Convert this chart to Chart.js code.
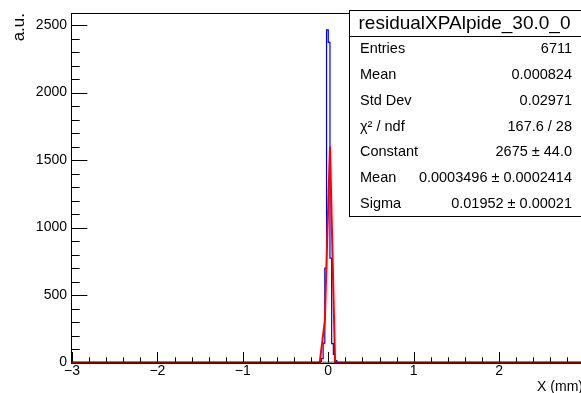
<!DOCTYPE html>
<html><head><meta charset="utf-8">
<script src="https://cdn.jsdelivr.net/npm/chart.js@4"></script>
<style>
html,body{margin:0;padding:0;background:#fff;overflow:hidden;width:581px;height:393px;}
canvas{display:block;}
</style></head><body>
<canvas id="c" width="600" height="393" style="width:600px;height:393px"></canvas>
<script>
const histTitle = 'residualXPAlpide_30.0_0';
const xTitle = 'X (mm)';
const yTitle = 'a.u.';
const binWidth = 0.02;
const binLow    = [-0.10, -0.08, -0.06, -0.04, -0.02, 0.00, 0.02, 0.04, 0.06, 0.08];
const binCounts = [8, 28, 144, 700, 2465, 2372, 774, 140, 60, 15];
const fitX = [-3, -0.10, -0.04, 0.02, 0.08, 3];
const fitY = [0, 0, 310, 1600, 0, 0];
const statLabels = ['Entries', 'Mean', 'Std Dev', 'χ² / ndf', 'Constant', 'Mean', 'Sigma'];
const statValues = ['6711', '0.000824', '0.02971', '167.6 / 28', '2675 ± 44.0', '0.0003496 ± 0.0002414', '0.01952 ± 0.00021'];
const xTickValues = [-3, -2, -1, 0, 1, 2, 3];
const yTickValues = [0, 500, 1000, 1500, 2000, 2500];
const xMin = -3, xMax = 3;
const yMin = 0, yMax = 2587;

const FONT = '"Liberation Sans", Arial, Helvetica, sans-serif';

const histPts = [{x: xMin, y: 0}];
binLow.forEach((lo, i) => histPts.push({x: lo, y: binCounts[i]}));
histPts.push({x: binLow[binLow.length - 1] + binWidth, y: 0});
histPts.push({x: xMax, y: 0});
const fitPts = fitX.map((x, i) => ({x, y: fitY[i]}));

const rootDecor = {
  id: 'rootDecor',
  beforeDatasetsDraw(chart) {
    const {ctx, chartArea: a} = chart;
    ctx.save();
    ctx.strokeStyle = '#000';
    ctx.lineWidth = 1;
    ctx.strokeRect(Math.round(a.left) - 0.5, Math.round(a.top) + 0.5, a.right - a.left, Math.round(a.bottom) - Math.round(a.top));
    const xs = chart.scales.x, ys = chart.scales.y;
    const H = a.bottom - a.top, W = a.right - a.left;
    ctx.beginPath();
    for (let i = -15; i <= 15; i++) {
      const v = i / 5;
      const px = Math.round(xs.getPixelForValue(v)) + 0.5;
      const len = (i % 5 === 0) ? 0.03 * H : 0.015 * H;
      ctx.moveTo(px, a.bottom);
      ctx.lineTo(px, a.bottom - len);
    }
    for (let v = 0; v <= 2500; v += 100) {
      const py = Math.round(ys.getPixelForValue(v)) + 0.5;
      const len = (v % 500 === 0) ? 0.03 * W : 0.015 * W;
      ctx.moveTo(a.left, py);
      ctx.lineTo(a.left + len, py);
    }
    ctx.stroke();
    ctx.restore();
  },
  afterDatasetsDraw(chart) {
    const {ctx, chartArea: a} = chart;
    ctx.save();
    ctx.strokeStyle = 'rgba(0,0,0,0.45)';
    ctx.lineWidth = 2;
    ctx.beginPath();
    ctx.moveTo(a.left, a.bottom);
    ctx.lineTo(a.right, a.bottom);
    ctx.stroke();
    ctx.restore();
  },
  afterDraw(chart) {
    const {ctx} = chart;
    ctx.save();
    ctx.fillStyle = '#000';
    ctx.font = '14px ' + FONT;
    ctx.textAlign = 'right';
    ctx.textBaseline = 'alphabetic';
    ctx.fillText(xTitle, 583, 391);
    ctx.save();
    ctx.translate(24, 13);
    ctx.rotate(-Math.PI / 2);
    ctx.font = '17px ' + FONT;
    ctx.textAlign = 'right';
    ctx.fillText(yTitle, 0, 0);
    ctx.restore();
    const bx = 349.5, by = 10.5, bw = 260, bh = 206;
    ctx.fillStyle = '#fff';
    ctx.fillRect(bx, by, bw, bh);
    ctx.strokeStyle = '#000';
    ctx.lineWidth = 1;
    ctx.strokeRect(bx, by, bw, bh);
    ctx.beginPath();
    ctx.moveTo(bx, 36.5); ctx.lineTo(bx + bw, 36.5);
    ctx.stroke();
    ctx.fillStyle = '#000';
    ctx.font = '19px ' + FONT;
    ctx.textAlign = 'center';
    ctx.textBaseline = 'middle';
    ctx.fillText(histTitle, 464.5, 24);
    ctx.font = '14.5px ' + FONT;
    const rowH = (216.5 - 36.5) / statLabels.length;
    statLabels.forEach((lab, i) => {
      const cy = 36.5 + rowH * (i + 0.5);
      ctx.textAlign = 'left';
      ctx.fillText(lab, 360, cy);
      ctx.textAlign = 'right';
      ctx.fillText(statValues[i], 572, cy);
    });
    ctx.restore();
  }
};

new Chart(document.getElementById('c'), {
  type: 'line',
  data: {
    datasets: [
      {
        data: histPts, stepped: 'before', borderColor: '#0000dd', borderWidth: 1.2,
        pointRadius: 0, fill: false, clip: 6, order: 2
      },
      {
        data: fitPts, borderColor: '#ff0000', borderWidth: 2,
        pointRadius: 0, fill: false, tension: 0, clip: 6, order: 1
      }
    ]
  },
  options: {
    responsive: false,
    animation: false,
    events: [],
    layout: {padding: {left: 0, right: 15.5, top: 13.3, bottom: 0}},
    plugins: {legend: {display: false}, tooltip: {enabled: false}, title: {display: false}},
    scales: {
      x: {
        type: 'linear', min: xMin, max: xMax,
        grid: {display: false, drawTicks: false},
        border: {display: false},
        afterBuildTicks: s => { s.ticks = xTickValues.map(v => ({value: v})); },
        ticks: {
          padding: 0, maxRotation: 0, autoSkip: false,
          color: '#000', font: {family: FONT, size: 14},
          callback: v => (v < 0 ? '\u2212' + Math.abs(v) : String(v))
        },
        afterFit: s => { s.height = 30.5; }
      },
      y: {
        type: 'linear', min: yMin, max: yMax,
        grid: {display: false, drawTicks: false},
        border: {display: false},
        afterBuildTicks: s => { s.ticks = yTickValues.map(v => ({value: v})); },
        ticks: {
          padding: 5, autoSkip: false,
          color: '#000', font: {family: FONT, size: 14},
          callback: v => String(v)
        },
        afterFit: s => { s.width = 72; }
      }
    }
  },
  plugins: [rootDecor]
});
</script>
</body></html>
